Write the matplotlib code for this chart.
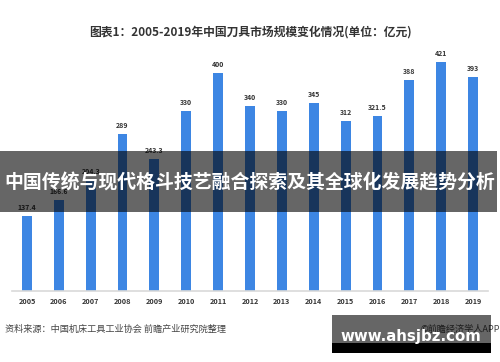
import matplotlib
matplotlib.use('Agg')
import matplotlib.pyplot as plt
from matplotlib.patches import Rectangle

plt.rcParams['font.family'] = ['Noto Sans CJK SC', 'DejaVu Sans']

# data
years = ['2005', '2006', '2007', '2008', '2009', '2010', '2011', '2012',
         '2013', '2014', '2015', '2016', '2017', '2018', '2019']
market_size = [137.4, 166.6, 204.3, 289, 243.3, 330, 400, 340,
               330, 345, 312, 321.5, 388, 421, 393]
value_labels = ['137.4', '166.6', '204.3', '289', '243.3', '330', '400', '340',
                '330', '345', '312', '321.5', '388', '421', '393']

title = '图表1：2005-2019年中国刀具市场规模变化情况(单位：亿元)'
banner = '中国传统与现代格斗技艺融合探索及其全球化发展趋势分析'
source = '资料来源：中国机床工具工业协会 前瞻产业研究院整理'
brand = '©前瞻经济学人APP'
site = 'www.ahsjbz.com'

W, H = 500, 362
fig = plt.figure(figsize=(W / 100, H / 100), dpi=100)
fig.patch.set_facecolor('white')

# axes placed so the baseline sits at y=291px, bars span x 12..488px
ax = fig.add_axes([12 / W, (H - 291) / H, 476 / W, 245 / H])
x = list(range(len(years)))
ax.bar(x, market_size, width=0.31, color='#3d86e3', zorder=2)
for xi, v, lab in zip(x, market_size, value_labels):
    ax.annotate(lab, (xi, v), xytext=(0, 3.5), textcoords='offset points',
                ha='center', va='bottom', fontsize=5, fontweight='bold',
                color='#333333')
ax.set_xlim(-0.47, 14.47)
ax.set_ylim(0, 450)
ax.set_xticks(x)
ax.set_xticklabels(years, fontsize=5.2, fontweight='bold', color='#333333')
ax.tick_params(axis='x', length=0, pad=5)
ax.set_yticks([])
for s in ['top', 'right', 'left']:
    ax.spines[s].set_visible(False)
ax.spines['bottom'].set_color('#d9d9d9')
ax.spines['bottom'].set_linewidth(1.2)
ax.patch.set_alpha(0)

# title
fig.text(250 / W, 1 - 32 / H, title, ha='center', va='center',
         fontsize=8.5, fontweight='bold', color='#333333')

# source line and brand
fig.text(5 / W, 1 - 329 / H, source, ha='left', va='center',
         fontsize=6.6, color='#444444')
fig.text(500 / W, 1 - 329 / H, brand, ha='right', va='center',
         fontsize=6.6, color='#444444')

# dark translucent banner across the middle
fig.add_artist(Rectangle((0, 1 - 212 / H), 497 / W, 61 / H,
                         transform=fig.transFigure, facecolor='black',
                         alpha=0.6, edgecolor='none', zorder=5))
fig.text(250 / W, 1 - 183 / H, banner, ha='center', va='center',
         fontsize=13.6, fontweight='bold', color='white', zorder=6)

# site watermark box bottom right
fig.add_artist(Rectangle((332 / W, 1 - 343 / H), 159 / W, 28 / H,
                         transform=fig.transFigure, facecolor='black',
                         alpha=0.6, edgecolor='none', zorder=5))
fig.add_artist(Rectangle((332 / W, 1 - 353 / H), 159 / W, 10 / H,
                         transform=fig.transFigure, facecolor='black',
                         edgecolor='none', zorder=5))
fig.text(411 / W, 1 - 336 / H, site, ha='center', va='center',
         fontsize=10.8, fontweight='bold', color='white', zorder=6,
         family='DejaVu Sans')

fig.savefig('out.png', dpi=100)
